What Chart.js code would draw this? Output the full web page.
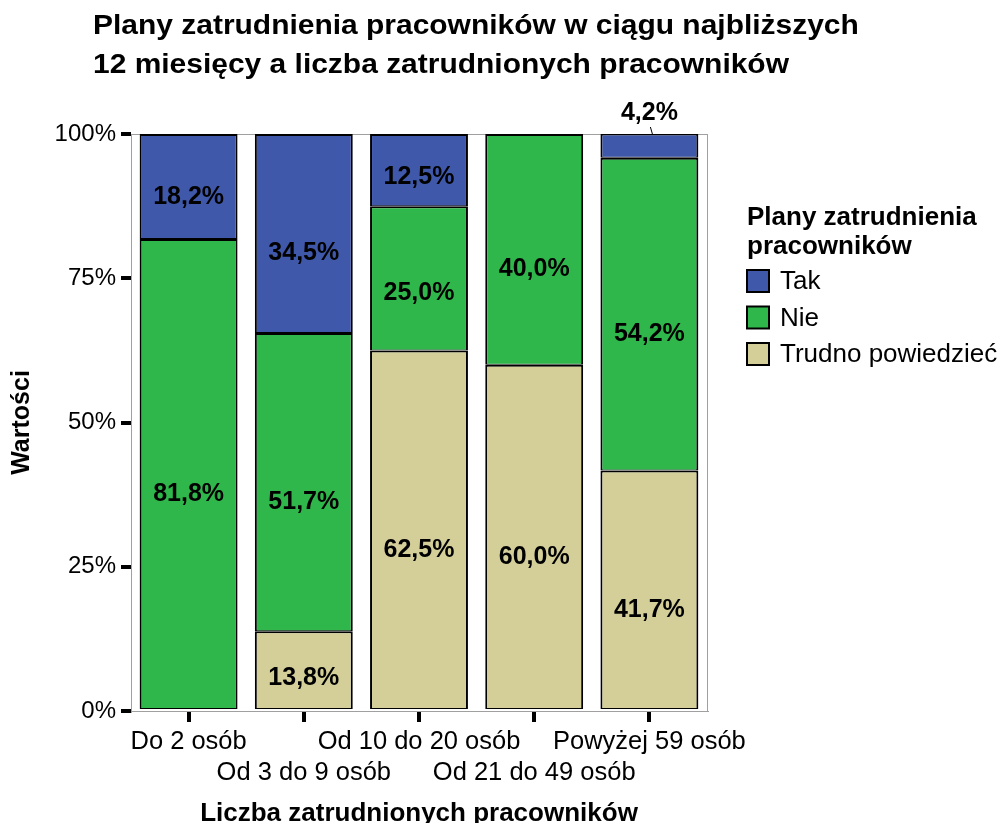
<!DOCTYPE html>
<html>
<head>
<meta charset="utf-8">
<script src="https://cdn.jsdelivr.net/npm/chart.js@4.4.0/dist/chart.umd.min.js"></script>
<style>
  html, body { margin: 0; padding: 0; background: #fff; }
  canvas { display: block; }
</style>
</head>
<body>
<canvas id="chart" width="998" height="823"></canvas>
<script>
// dane
const categories = ['Do 2 osób', 'Od 3 do 9 osób', 'Od 10 do 20 osób', 'Od 21 do 49 osób', 'Powyżej 59 osób'];
const tak = [18.2, 34.5, 12.5, 0, 4.2];
const nie = [81.8, 51.7, 25.0, 40.0, 54.2];
const trudno = [0, 13.8, 62.5, 60.0, 41.7];
const yTicks = [0, 25, 50, 75, 100];
const seriesNames = ['Tak', 'Nie', 'Trudno powiedzieć'];
const titleLines = ['Plany zatrudnienia pracowników w ciągu najbliższych', '12 miesięcy a liczba zatrudnionych pracowników'];
const legendTitle = ['Plany zatrudnienia', 'pracowników'];
const xTitle = 'Liczba zatrudnionych pracowników';
const yTitle = 'Wartości';

const FONT = "'Liberation Sans', Arial, sans-serif";
const colors = { tak: '#3f58aa', nie: '#2fb74b', trudno: '#d4cf99' };

function fmt(v) {
  return v.toFixed(1).replace('.', ',') + '%';
}

// tytuły, legenda, etykiety wartości
const extras = {
  id: 'extras',
  beforeDatasetsDraw(chart) {
    const { ctx, chartArea: a } = chart;
    ctx.save();
    ctx.strokeStyle = '#a0a0a0';
    ctx.lineWidth = 1;
    ctx.strokeRect(a.left + 0.5, a.top + 0.5, a.right - a.left, a.bottom - a.top);
    ctx.restore();
  },
  afterDraw(chart) {
    const { ctx, chartArea: a } = chart;
    ctx.save();
    ctx.fillStyle = '#000';

    // tytuł (lekko rozciągnięty w poziomie)
    ctx.save();
    ctx.font = 'bold 28px ' + FONT;
    ctx.textAlign = 'left';
    ctx.textBaseline = 'alphabetic';
    ctx.translate(93, 0);
    ctx.scale(1.07, 1);
    titleLines.forEach((t, i) => ctx.fillText(t, 0, 34 + i * 39));
    ctx.restore();

    // tytuł osi X
    ctx.font = 'bold 26px ' + FONT;
    ctx.textAlign = 'center';
    ctx.textBaseline = 'alphabetic';
    ctx.fillText(xTitle, (a.left + a.right) / 2, 821);

    // tytuł osi Y
    ctx.save();
    ctx.font = 'bold 25px ' + FONT;
    ctx.textBaseline = 'middle';
    ctx.translate(22, (a.top + a.bottom) / 2);
    ctx.rotate(-Math.PI / 2);
    ctx.fillText(yTitle, 0, 0);
    ctx.restore();

    // legenda
    const lx = 747;
    ctx.textAlign = 'left';
    ctx.textBaseline = 'middle';
    ctx.font = 'bold 26px ' + FONT;
    legendTitle.forEach((t, i) => ctx.fillText(t, lx, 218 + i * 29));
    ctx.font = '26px ' + FONT;
    const order = [2, 1, 0];
    order.forEach((di, k) => {
      const ds = chart.data.datasets[di];
      const cy = 281 + k * 36.5;
      ctx.fillStyle = '#000';
      ctx.fillRect(lx - 1, cy - 12, 24, 24);
      ctx.fillStyle = ds.backgroundColor;
      ctx.fillRect(lx + 1, cy - 10, 20, 20);
      ctx.fillStyle = '#000';
      ctx.fillText(ds.label, lx + 33, cy + 1);
    });

    // etykiety wartości
    ctx.font = 'bold 25px ' + FONT;
    ctx.textAlign = 'center';
    chart.data.datasets.forEach((ds, di) => {
      const meta = chart.getDatasetMeta(di);
      meta.data.forEach((bar, i) => {
        const v = ds.data[i];
        if (!v) return;
        const { x, y, base } = bar.getProps(['x', 'y', 'base'], true);
        const h = base - y;
        if (h < 30) {
          // za mały segment: etykieta nad wykresem z odnośnikiem
          ctx.fillText(fmt(v), x, a.top - 21);
          ctx.beginPath();
          ctx.strokeStyle = '#000';
          ctx.lineWidth = 1;
          ctx.moveTo(x + 1, a.top - 7);
          ctx.lineTo(x + 3, a.top);
          ctx.stroke();
        } else {
          const nudge = Math.min(20, h * 0.1);
          ctx.fillText(fmt(v), x, (y + base) / 2 + nudge);
        }
      });
    });
    ctx.restore();
  }
};

const barStyle = {
  borderColor: '#000',
  borderWidth: { top: 2, bottom: 1, left: 2, right: 2 },
  borderSkipped: false,
  barPercentage: 0.85,
  categoryPercentage: 1.0
};

new Chart(document.getElementById('chart'), {
  type: 'bar',
  data: {
    labels: categories,
    datasets: [
      Object.assign({ label: seriesNames[2], data: trudno, backgroundColor: colors.trudno }, barStyle),
      Object.assign({ label: seriesNames[1], data: nie, backgroundColor: colors.nie }, barStyle),
      Object.assign({ label: seriesNames[0], data: tak, backgroundColor: colors.tak }, barStyle)
    ]
  },
  options: {
    responsive: false,
    animation: false,
    devicePixelRatio: 1,
    layout: { padding: { top: 134, right: 291, left: 0, bottom: 0 } },
    plugins: {
      legend: { display: false },
      title: { display: false },
      tooltip: { enabled: false }
    },
    scales: {
      x: {
        stacked: true,
        afterFit: s => { s.height = 112; },
        grid: { display: true, offset: false, drawOnChartArea: false, drawTicks: true, tickLength: 11, lineWidth: 4, color: '#000' },
        border: { display: true, color: '#a0a0a0', width: 1 },
        ticks: {
          autoSkip: false,
          maxRotation: 0,
          minRotation: 0,
          padding: 4,
          color: '#000',
          font: { family: FONT, size: 25.5, lineHeight: 1.22 },
          callback: (v, i) => i % 2 ? ['', categories[i]] : categories[i]
        }
      },
      y: {
        stacked: true,
        min: 0,
        max: 100,
        afterFit: s => { s.width = 131; },
        afterBuildTicks: s => { s.ticks = yTicks.map(v => ({ value: v })); },
        grid: { display: true, drawOnChartArea: false, drawTicks: true, tickLength: 10, lineWidth: 4, color: '#000' },
        border: { display: true, color: '#a0a0a0', width: 1 },
        ticks: {
          padding: 5,
          color: '#000',
          font: { family: FONT, size: 24 },
          callback: v => v + '%'
        }
      }
    }
  },
  plugins: [extras]
});
</script>
</body>
</html>
